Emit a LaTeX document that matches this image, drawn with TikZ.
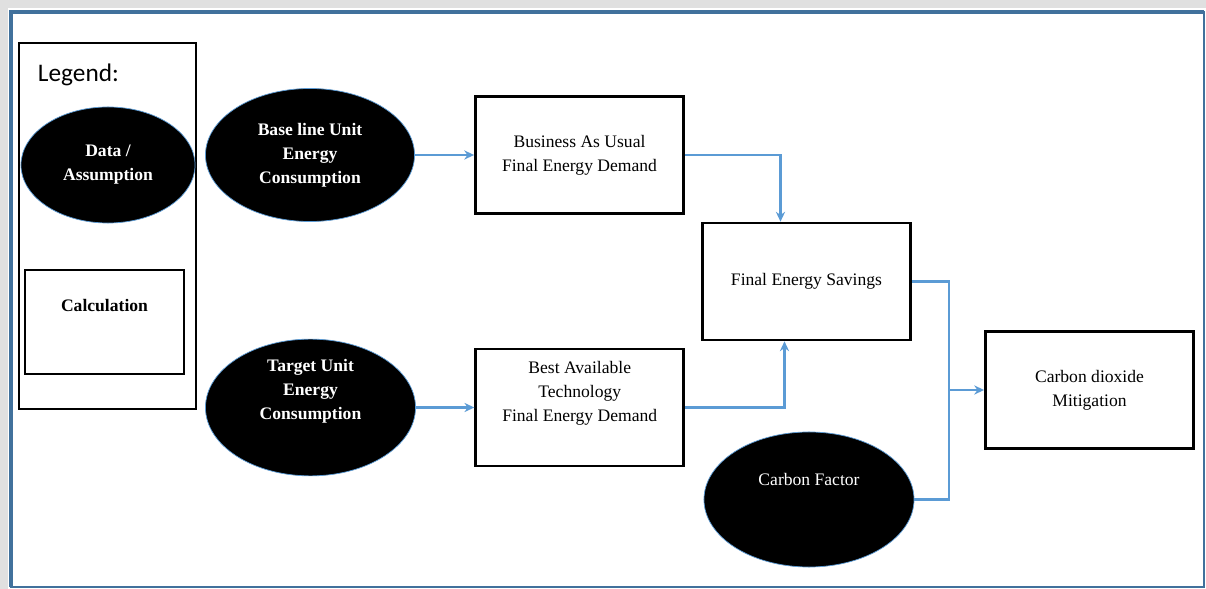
\documentclass[tikz,border=0pt]{standalone}
\usepackage{fontspec}
\setmainfont{Liberation Serif}
\newfontfamily\legendfont{Carlito}
\usetikzlibrary{shapes,arrows,arrows.meta,positioning,calc}
\definecolor{framebl}{HTML}{41719C}
\definecolor{arrowbl}{HTML}{5B9BD5}

\begin{document}
\begin{tikzpicture}[x=0.025cm, y=-0.025cm, >={Stealth[length=7pt, width=6.5pt]},
    dataell/.style={draw=arrowbl, line width=0.5pt, ellipse, fill=black, text=white, inner sep=0pt,
        font=\fontsize{12.5}{17}\selectfont\bfseries, align=center},
    calcbox/.style={draw, rectangle, line width=2pt, align=center, inner sep=0pt,
        font=\fontsize{12.5}{17}\selectfont, minimum width=5.2cm, minimum height=2.92cm},
    flow/.style={draw=arrowbl, line width=2pt}]
    \useasboundingbox (0,0) rectangle (1206,589);
    \fill[black!12] (0,0) rectangle (1206,589);
    \fill[white] (8,8) rectangle (1206,589);
    \draw[framebl, line width=1pt] (11,12) rectangle (1204,587);
    \draw[framebl, line width=3pt] (11,587) -- (11,12) -- (1204,12);

    % legend
    \node[draw, line width=0.9pt, minimum width=4.425cm, minimum height=9.15cm] (legend) at (107.5,226) {};
    \node[anchor=west, font=\legendfont\fontsize{18}{20}\selectfont] (legendtitle) at (33,75) {Legend:};
    \node[dataell, minimum width=4.35cm, minimum height=2.9cm] (legdata) at (108,165) {Data /\\Assumption};
    \node[calcbox, minimum width=3.975cm, minimum height=2.6cm, font=\fontsize{12.5}{17}\selectfont\bfseries] (legcalc) at (104.5,322) {Calculation\\[0.25cm]\mbox{}};

    % data
    \node[dataell, minimum width=5.225cm, minimum height=3.325cm] (base) at (310,155) {Base line Unit\\Energy\\Consumption};
    \node[dataell, minimum width=5.25cm, minimum height=3.375cm] (target) at (310.5,407.5) {Target Unit\\Energy\\Consumption\\[0.32cm]\mbox{}};
    \node[dataell, minimum width=5.25cm, minimum height=3.375cm, font=\fontsize{12.5}{17}\selectfont] (carbon) at (809,499.5) {Carbon Factor\\[0.42cm]\mbox{}};

    % calculations
    \node[calcbox, right=1.48cm of base] (bau) {Business As Usual\\Final Energy Demand};
    \node[calcbox, right=1.46cm of target] (bat) {Best Available\\Technology\\Final Energy Demand\\[0.2cm]\mbox{}};
    \node[calcbox] (fes) at (806.5,281.5) {Final Energy Savings};
    \node[calcbox] (co2) at (1089.5,390) {Carbon dioxide\\Mitigation};
    \coordinate (join) at (949,390);

    \draw[flow, ->] (base) -- (bau);
    \draw[flow, ->] (target) -- (bat);
    \draw[flow, ->] (bau.east) -| ([xshift=-0.65cm]fes.north);
    \draw[flow, ->] (bat.east) -| ([xshift=-0.55cm]fes.south);
    \draw[flow] (fes.east) -| (join);
    \draw[flow] (carbon.east) -| (join);
    \draw[flow, ->] (join) -- (co2);
\end{tikzpicture}
\end{document}
